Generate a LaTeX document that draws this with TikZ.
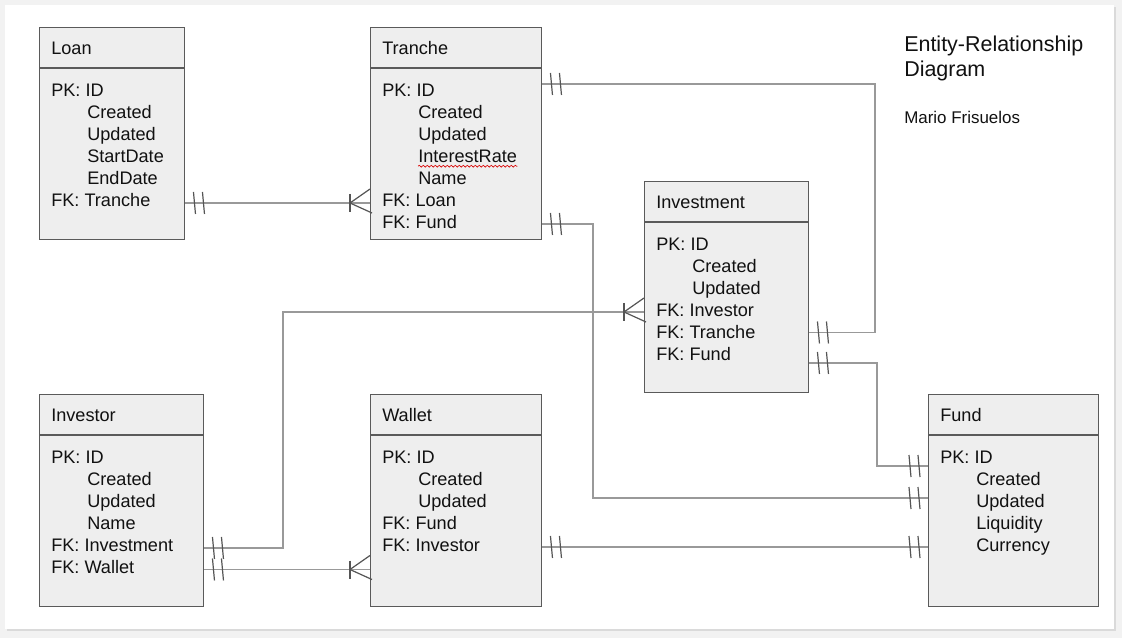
\documentclass[tikz,border=0pt]{standalone}
\usepackage{fontspec}
\setmainfont{Liberation Sans}
\usepackage{tikz}
\usetikzlibrary{positioning}
\usetikzlibrary{decorations.pathmorphing}

\definecolor{pagegray}{HTML}{F2F2F2}
\definecolor{shadowgray}{HTML}{DADADA}
\definecolor{boxfill}{HTML}{EEEEEE}
\definecolor{boxline}{HTML}{5A5A5A}
\definecolor{linkgray}{HTML}{999999}
\definecolor{tickgray}{HTML}{555555}
\definecolor{inkblack}{HTML}{111111}

\newlength{\pxu}
\setlength{\pxu}{0.75pt}

\tikzset{
  entity/.style={draw=boxline, fill=boxfill, line width=1.1pt, anchor=north west,
    inner sep=0pt, minimum height=212\pxu},
  boxrule/.style={draw=boxline, line width=1.1pt},
  head/.style={anchor=base west, inner sep=0pt, text=inkblack, font=\fontsize{13.6}{16}\selectfont},
  row/.style={anchor=base west, inner sep=0pt, text=inkblack, font=\fontsize{13.6}{16}\selectfont},
  link/.style={draw=linkgray, line width=1.1pt},
  tick/.style={draw=tickgray, line width=0.9pt},
  spell/.style={draw=red!85!black, line width=0.5pt, decorate,
    decoration={snake, amplitude=0.9\pxu, segment length=4\pxu}},
  pics/onemark/.style={code={
      \draw [tick] (#1*9-1,-11) -- (#1*9+1,11);
      \draw [tick] (#1*18-1,-11) -- (#1*18+1,11);
  }},
  pics/manymark/.style={code={
      \draw [tick] (#1*20,-9) -- (#1*20,9);
      \draw [tick] (#1*20,0) -- (0,-14);
      \draw [tick] (#1*20,0) -- (#1*-2,10);
  }},
}

\begin{document}
\begin{tikzpicture}[x=0.75pt, y=-0.75pt]
        \fill [pagegray] (0,0) rectangle (1122,638);
        \fill [shadowgray] (7,7) rectangle (1116,631);
        \fill [white] (5,5) rectangle (1114,629);
        \useasboundingbox (0,0) rectangle (1122,638);

        % entities
        \node [entity, minimum width=145\pxu] (loan) at (39,27) {};
        \node [entity, minimum width=171\pxu] (tranche) at (370,27) {};
        \node [entity, minimum width=164\pxu, minimum height=211\pxu] (investment) at (644,181) {};
        \node [entity, minimum width=164\pxu] (investor) at (39,394) {};
        \node [entity, minimum width=171\pxu] (wallet) at (370,394) {};
        \node [entity, minimum width=170\pxu] (fund) at (928,394) {};

        \foreach \e in {loan,tranche,investment,investor,wallet,fund}
          \draw [boxrule] ([yshift=-41\pxu]\e.north west) -- ([yshift=-41\pxu]\e.north east);

        \node [head] (loan-h) at (51,54.3) {Loan};
        \node [row] (loan1) at (51,96.7) {PK: ID};
        \node [row] (loan2) at (87,118.7) {Created};
        \node [row] (loan3) at (87,140.7) {Updated};
        \node [row] (loan4) at (87,162.7) {StartDate};
        \node [row] (loan5) at (87,184.7) {EndDate};
        \node [row] (loan6) at (51,206.7) {FK: Tranche};

        \node [head] (tranche-h) at (382,54.3) {Tranche};
        \node [row] (tranche1) at (382,96.7) {PK: ID};
        \node [row] (tranche2) at (418,118.7) {Created};
        \node [row] (tranche3) at (418,140.7) {Updated};
        \node [row] (tranche4) at (418,162.7) {InterestRate};
        \node [row] (tranche5) at (418,184.7) {Name};
        \node [row] (tranche6) at (382,206.7) {FK: Loan};
        \node [row] (tranche7) at (382,228.7) {FK: Fund};
        \draw [spell] ([yshift=-3.5\pxu]tranche4.base west) -- ([yshift=-3.5\pxu]tranche4.base east);

        \node [head] (investment-h) at (656,208.3) {Investment};
        \node [row] (investment1) at (656,250.7) {PK: ID};
        \node [row] (investment2) at (692,272.7) {Created};
        \node [row] (investment3) at (692,294.7) {Updated};
        \node [row] (investment4) at (656,316.7) {FK: Investor};
        \node [row] (investment5) at (656,338.7) {FK: Tranche};
        \node [row] (investment6) at (656,360.7) {FK: Fund};

        \node [head] (investor-h) at (51,421.3) {Investor};
        \node [row] (investor1) at (51,463.7) {PK: ID};
        \node [row] (investor2) at (87,485.7) {Created};
        \node [row] (investor3) at (87,507.7) {Updated};
        \node [row] (investor4) at (87,529.7) {Name};
        \node [row] (investor5) at (51,551.7) {FK: Investment};
        \node [row] (investor6) at (51,573.7) {FK: Wallet};

        \node [head] (wallet-h) at (382,421.3) {Wallet};
        \node [row] (wallet1) at (382,463.7) {PK: ID};
        \node [row] (wallet2) at (418,485.7) {Created};
        \node [row] (wallet3) at (418,507.7) {Updated};
        \node [row] (wallet4) at (382,529.7) {FK: Fund};
        \node [row] (wallet5) at (382,551.7) {FK: Investor};

        \node [head] (fund-h) at (940,421.3) {Fund};
        \node [row] (fund1) at (940,463.7) {PK: ID};
        \node [row] (fund2) at (976,485.7) {Created};
        \node [row] (fund3) at (976,507.7) {Updated};
        \node [row] (fund4) at (976,529.7) {Liquidity};
        \node [row] (fund5) at (976,551.7) {Currency};

        \node [anchor=base west, inner sep=0pt, text=inkblack, font=\fontsize{16.1}{19}\selectfont] (title1) at (904,51.3) {Entity-Relationship};
        \node [anchor=base west, inner sep=0pt, text=inkblack, font=\fontsize{16.1}{19}\selectfont] (title2) at (904,76.8) {Diagram};
        \node [anchor=base west, inner sep=0pt, text=inkblack, font=\fontsize{12.7}{15}\selectfont] (author) at (904,124) {Mario Frisuelos};

        % relationships
        \coordinate (loan-tr) at (0,203);
        \draw [link] (loan.east |- loan-tr) -- (tranche.west |- loan-tr);
        \pic at (loan.east |- loan-tr) {onemark=1};
        \pic at (tranche.west |- loan-tr) {manymark=-1};

        \coordinate (tr-inv) at (875,84);
        \coordinate (tr-inv2) at (875,332.5);
        \draw [link] (tranche.east |- tr-inv) -- (tr-inv) -- (tr-inv2) -- (investment.east |- tr-inv2);
        \pic at (tranche.east |- tr-inv) {onemark=1};
        \pic at (investment.east |- tr-inv2) {onemark=1};

        \coordinate (tr-fund) at (593,224);
        \coordinate (tr-fund2) at (593,498);
        \draw [link] (tranche.east |- tr-fund) -- (tr-fund) -- (tr-fund2) -- (fund.west |- tr-fund2);
        \pic at (tranche.east |- tr-fund) {onemark=1};
        \pic at (fund.west |- tr-fund2) {onemark=-1};

        \coordinate (inv-fund) at (877,363);
        \coordinate (inv-fund2) at (877,466);
        \draw [link] (investment.east |- inv-fund) -- (inv-fund) -- (inv-fund2) -- (fund.west |- inv-fund2);
        \pic at (investment.east |- inv-fund) {onemark=1};
        \pic at (fund.west |- inv-fund2) {onemark=-1};

        \coordinate (is-inv) at (283,548);
        \coordinate (is-inv2) at (283,312);
        \draw [link] (investor.east |- is-inv) -- (is-inv) -- (is-inv2) -- (investment.west |- is-inv2);
        \pic at (investor.east |- is-inv) {onemark=1};
        \pic at (investment.west |- is-inv2) {manymark=-1};

        \coordinate (is-wal) at (0,569.5);
        \draw [link] (investor.east |- is-wal) -- (wallet.west |- is-wal);
        \pic at (investor.east |- is-wal) {onemark=1};
        \pic at (wallet.west |- is-wal) {manymark=-1};

        \coordinate (wal-fund) at (0,547);
        \draw [link] (wallet.east |- wal-fund) -- (fund.west |- wal-fund);
        \pic at (wallet.east |- wal-fund) {onemark=1};
        \pic at (fund.west |- wal-fund) {onemark=-1};
      \end{tikzpicture}
\end{document}
